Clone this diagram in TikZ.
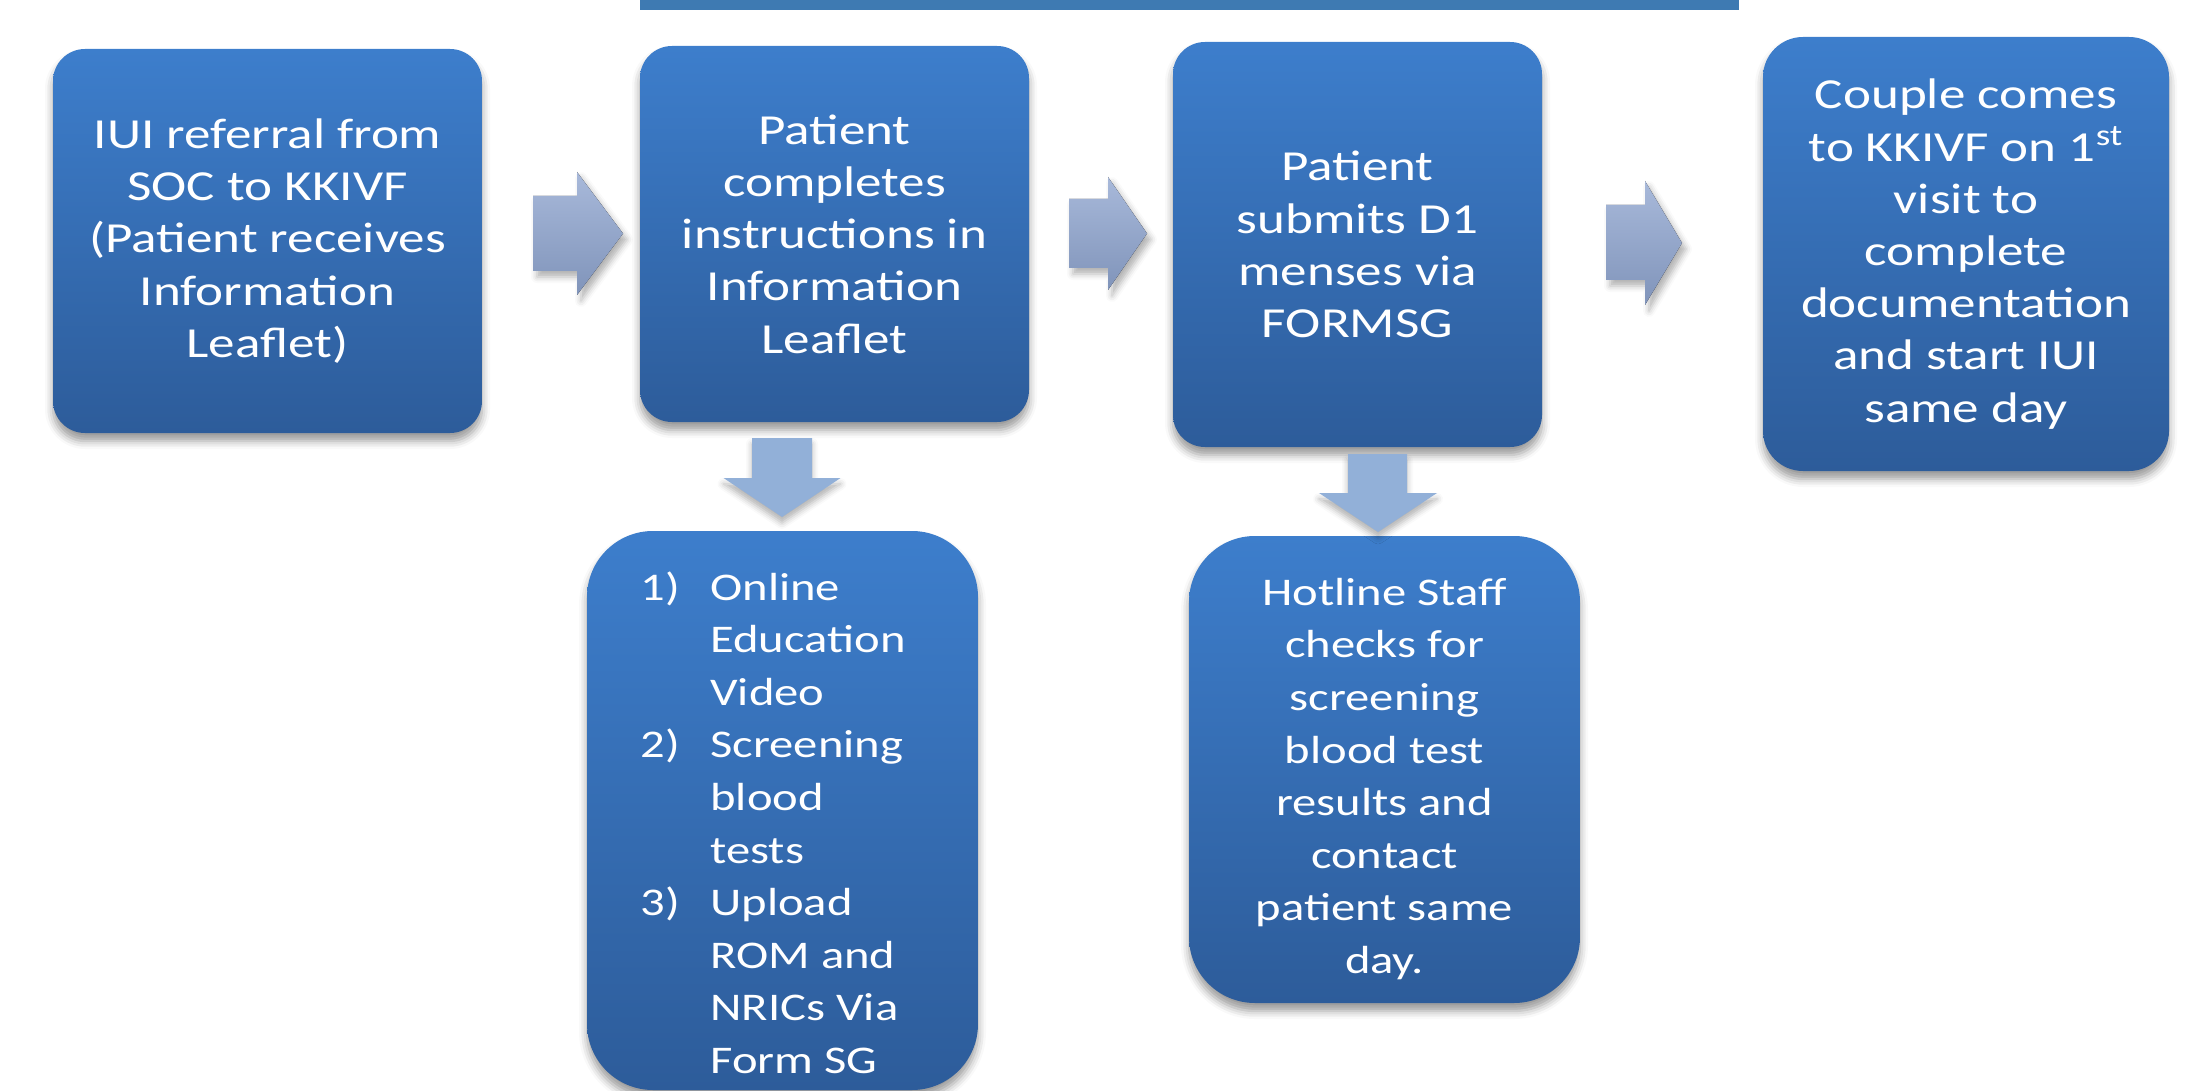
\documentclass[tikz,border=0pt]{standalone}
\usepackage{fontspec}
\setmainfont{Carlito}[FakeStretch=1.24]
\usetikzlibrary{shadows.blur}

\definecolor{boxtop}{RGB}{61,126,204}
\definecolor{boxbot}{RGB}{45,92,154}
\definecolor{barblue}{RGB}{62,122,178}
\definecolor{arrtop}{RGB}{168,185,218}
\definecolor{arrbot}{RGB}{128,148,186}
\definecolor{downblue}{RGB}{146,176,216}

\tikzset{
  stage/.style={rounded corners=16pt, top color=boxtop, bottom color=boxbot,
    text=white, align=center, inner sep=0pt,
    font=\fontsize{21.4}{26.1}\selectfont,
    blur shadow={shadow xshift=0pt, shadow yshift=-4pt, shadow blur radius=4pt, shadow opacity=40}},
  tall/.style={rounded corners=33pt},
  lower/.style={text=white, inner sep=0pt, font=\fontsize{19.6}{26.3}\selectfont},
  rarr/.style={top color=arrtop, bottom color=arrbot,
    blur shadow={shadow xshift=2pt, shadow yshift=-3pt, shadow blur radius=3pt, shadow opacity=30}},
  darr/.style={fill=downblue,
    blur shadow={shadow xshift=0pt, shadow yshift=-3pt, shadow blur radius=3pt, shadow opacity=30}}
}

\begin{document}
\begin{tikzpicture}[x=0.5pt,y=-0.5pt]
\useasboundingbox (0,0) rectangle (2190,1091);

% bar along the top edge
\fill[barblue] (640,0) rectangle (1739,10);

% main row
\node[stage, minimum width=214.5pt, minimum height=192pt] (referral) at (267.5,241)
  {IUI referral from\\SOC to KKIVF\\(Patient receives\\Information\\Leaflet)};
\node[stage, minimum width=194.5pt, minimum height=188pt] (leaflet) at (834.5,234)
  {Patient\\completes\\instructions in\\Information\\Leaflet};
\node[stage, minimum width=184.5pt, minimum height=202.5pt] (menses) at (1357.5,244.5)
  {Patient\\submits D1\\menses via\\FORMSG};
\node[stage, rounded corners=20pt, minimum width=203pt, minimum height=217pt] (visit) at (1966,254)
  {Couple comes\\to KKIVF on 1\textsuperscript{st}\\visit to\\complete\\documentation\\and start IUI\\same day};

% second row
\node[stage, tall, minimum width=195.5pt, minimum height=279.5pt] (tasks) at (782.5,810.5) {};
\node[lower, anchor=north west, align=left] (tasklist) at (640,571)
  {\makebox[35pt][l]{1)}Online\\\hspace*{35pt}Education\\\hspace*{35pt}Video\\
   \makebox[35pt][l]{2)}Screening\\\hspace*{35pt}blood\\\hspace*{35pt}tests\\
   \makebox[35pt][l]{3)}Upload\\\hspace*{35pt}ROM and\\\hspace*{35pt}NRICs Via\\\hspace*{35pt}Form SG};
\node[stage, tall, minimum width=195.5pt, minimum height=233.5pt] (hotline) at (1384.5,769.5) {};
\node[lower, align=center] (hotlinetext) at (1384.5,779)
  {Hotline Staff\\checks for\\screening\\blood test\\results and\\contact\\patient same\\day.};

% block arrows
\fill[rarr] (533,196) -- (577,196) -- (577,172) -- (623,233.5) -- (577,295) -- (577,271) -- (533,271) -- cycle;
\fill[rarr] (1069,199) -- (1108,199) -- (1108,177) -- (1147,233.5) -- (1108,290) -- (1108,268) -- (1069,268) -- cycle;
\fill[rarr] (1606,205) -- (1645,205) -- (1645,181) -- (1682,243) -- (1645,305) -- (1645,280) -- (1606,280) -- cycle;
\fill[darr] (752,438) -- (812,438) -- (812,478) -- (840.5,478) -- (782,517) -- (723.5,478) -- (752,478) -- cycle;
\fill[darr] (1348,454) -- (1407,454) -- (1407,493) -- (1437,493) -- (1378,532) -- (1319,493) -- (1348,493) -- cycle;
\end{tikzpicture}
\end{document}
